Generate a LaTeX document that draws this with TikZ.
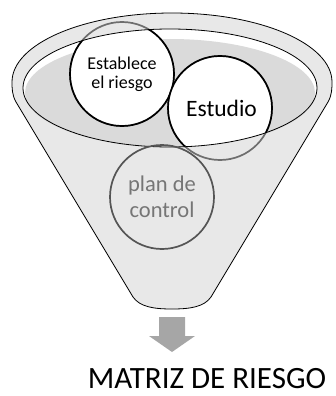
\documentclass[tikz,border=0pt]{standalone}
\usepackage{fontspec}
\setmainfont{Carlito}
\definecolor{funnelgray}{HTML}{E8E8E8}
\definecolor{innergray}{HTML}{DADADA}
\definecolor{rimgray}{HTML}{6E6E6E}
\definecolor{plangray}{HTML}{555555}
\definecolor{plantext}{HTML}{767676}
\definecolor{arrowgray}{HTML}{A6A6A6}
\begin{document}
\begin{tikzpicture}[x=1pt,y=-1pt,
	bubble/.style={circle,minimum size=104pt,inner sep=0pt,align=center,line width=1.7pt},
	rim/.style={line width=0.8pt}]
	\useasboundingbox (0,0) rectangle (336,396);

	% funnel body
	\draw[rim,fill=funnelgray] (133,297) -- (16,102) .. controls (12,95) and (12,88) .. (12,82)
		arc[start angle=180,end angle=360,x radius=160,y radius=69]
		.. controls (332,88) and (332,95) .. (328,102) -- (211,297)
		.. controls (204,307) and (190,309) .. (172,309)
		.. controls (154,309) and (140,307) .. (133,297) -- cycle;
	\fill[white] (170,88) ellipse[x radius=147,y radius=59];
	\fill[innergray] (170,93) ellipse[x radius=145,y radius=54];

	% circles behind the rim
	\draw[rimgray,line width=1.7pt] (122,74) circle[radius=52];
	\draw[rimgray,line width=1.7pt] (220,108) circle[radius=52];
	\begin{scope}
		\clip (170,88) ellipse[x radius=147,y radius=59];
		\node (est) [bubble,draw,fill=white,font=\fontsize{18}{19}\selectfont] at (122,74) {Establece\\el riesgo};
		\node (estudio) [bubble,draw,fill=white,font=\fontsize{23.5}{25}\selectfont] at (220,108) {\hspace{3pt}\raisebox{-6pt}{Estudio}};
	\end{scope}
	\draw[rim] (170,88) ellipse[x radius=147,y radius=59];

	\node (plan) [bubble,draw=plangray,text=plantext,font=\fontsize{22.5}{26}\selectfont] at (162,197) {plan de\\control};

	% arrow and result
	\fill[arrowgray] (159,317) -- (185,317) -- (185,336) -- (195,336) -- (172,352)
		-- (149,336) -- (159,336) -- cycle;
	\node (matriz) [anchor=base,inner sep=0pt,font=\fontsize{31}{32}\selectfont] at (207,388) {MATRIZ DE RIESGO};
\end{tikzpicture}
\end{document}
